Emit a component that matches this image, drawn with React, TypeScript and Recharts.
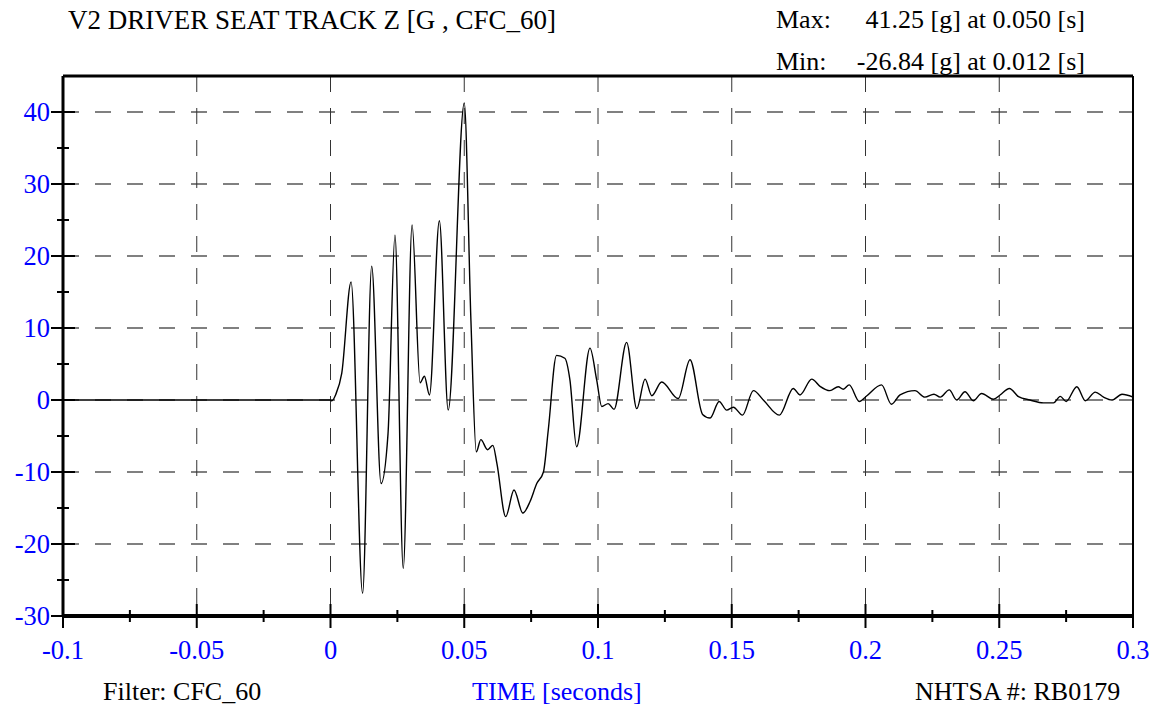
import React from "react";
import { LineChart, Line, XAxis, YAxis, CartesianGrid, ReferenceLine } from "recharts";

// time [s] and acceleration [g]
const TIME = [
  -0.1, -0.05, 0.0, 0.0005, 0.002, 0.0042, 0.0077, 0.012, 0.0154, 0.0189, 0.0215,
  0.0241, 0.0272, 0.0305, 0.0335, 0.0351, 0.037, 0.0407, 0.044, 0.05, 0.0525,
  0.0545, 0.0562, 0.0587, 0.0607, 0.0622, 0.0655, 0.0686, 0.0719, 0.0746, 0.0771,
  0.0796, 0.0814, 0.0845, 0.0876, 0.0895, 0.092, 0.097, 0.0995, 0.1014, 0.1038,
  0.106, 0.1107, 0.1145, 0.1176, 0.1201, 0.1238, 0.13, 0.1344, 0.1391, 0.1419,
  0.1453, 0.1481, 0.1506, 0.154, 0.1581, 0.1618, 0.1678, 0.173, 0.1755, 0.1799,
  0.183, 0.1867, 0.1898, 0.1917, 0.1939, 0.1977, 0.2004, 0.206, 0.2097, 0.2129,
  0.2185, 0.2222, 0.2256, 0.2279, 0.2313, 0.2341, 0.2372, 0.2403, 0.2434, 0.2478,
  0.2503, 0.2538, 0.2572, 0.2615, 0.2665, 0.2703, 0.2728, 0.275, 0.279, 0.2822,
  0.2859, 0.289, 0.2922, 0.2959, 0.3,
];

const ACCEL = [
  0, 0, 0, -0.1, 0.8, 3.7, 16.4, -26.84, 18.6, -11.6, -4.7,
  22.9, -23.4, 24.3, 2.4, 3.3, 0.7, 24.9, -1.4, 41.25, 11,
  -7.2, -5.5, -6.9, -6.3, -8.8, -16.2, -12.5, -15.7, -14.1, -11.6,
  -10, -4.2, 6.2, 5.8, 2.8, -6.5, 7.2, 2.8, -0.9, -0.5,
  -1.3, 8.0, -1.2, 2.9, 0.6, 2.5, 0.2, 5.6, -2.0, -2.5,
  -0.2, -1.4, -1.0, -2.1, 1.3, 0, -2.1, 1.6, 0.7, 2.9,
  1.9, 1.3, 1.85, 1.5, 2.1, -0.2, 0.55, 2.1, -0.6, 0.7,
  1.3, 0.4, 0.8, 0.4, 1.4, 0, 1.15, -0.1, 0.9, 0.1,
  0.7, 1.6, 0.46, 0, -0.4, -0.4, 0.5, -0.2, 1.85, -0.1,
  1.1, 0.4, 0, 0.8, 0.4,
];

const X_TICKS = [
  -0.1, -0.075, -0.05, -0.025, 0, 0.025, 0.05, 0.075, 0.1, 0.125, 0.15, 0.175,
  0.2, 0.225, 0.25, 0.275, 0.3,
];
const X_LABELS = ["-0.1", "-0.05", "0", "0.05", "0.1", "0.15", "0.2", "0.25", "0.3"];
const X_GRID = [-0.05, 0, 0.05, 0.1, 0.15, 0.2, 0.25];

const Y_TICKS = [-30, -25, -20, -15, -10, -5, 0, 5, 10, 15, 20, 25, 30, 35, 40];
const Y_GRID = [-30, -20, -10, 0, 10, 20, 30, 40];

const rows = TIME.map((t, i) => ({ t, g: ACCEL[i] }));

const BLUE = "#0000ff";
const FONT = '"Liberation Serif", "Times New Roman", serif';

function XTick(props: any) {
  const { x, y, index } = props;
  const major = index % 2 === 0;
  const len = major ? 12 : 6;
  return (
    <g>
      <line x1={x} x2={x} y1={y - len} y2={y + len} stroke="#000" strokeWidth={2} />
      {major && (
        <text x={x} y={y + 43} textAnchor="middle" fill={BLUE} fontSize={26.5} fontFamily={FONT}>
          {X_LABELS[index / 2]}
        </text>
      )}
    </g>
  );
}

function YTick(props: any) {
  const { x, y, payload } = props;
  const major = payload.value % 10 === 0;
  const len = major ? 12 : 6;
  return (
    <g>
      <line x1={x - len} x2={x + len} y1={y} y2={y} stroke="#000" strokeWidth={2} />
      {major && (
        <text x={x - 13} y={y + 9} textAnchor="end" fill={BLUE} fontSize={26.5} fontFamily={FONT}>
          {payload.value}
        </text>
      )}
    </g>
  );
}

const txt = (extra: React.CSSProperties): React.CSSProperties => ({
  position: "absolute",
  fontFamily: FONT,
  fontSize: 26,
  lineHeight: "26px",
  whiteSpace: "nowrap",
  color: "#000",
  ...extra,
});

export default function App() {
  return (
    <div style={{ position: "absolute", left: 0, top: 0, width: 1157, height: 711, background: "#fff" }}>
      <LineChart width={1157} height={711} data={rows} margin={{ top: 76, right: 24, bottom: 0, left: 0 }}>
        <CartesianGrid
          vertical={false}
          horizontalValues={Y_GRID}
          stroke="#808080"
          strokeWidth={2}
          strokeDasharray="16 16"
        />
        <CartesianGrid
          horizontal={false}
          verticalValues={X_GRID}
          stroke="#333"
          strokeWidth={1}
          strokeDasharray="16 16"
        />
        <XAxis
          dataKey="t"
          type="number"
          domain={[-0.1, 0.3]}
          ticks={X_TICKS}
          interval={0}
          height={95}
          tickSize={0}
          tickMargin={0}
          axisLine={{ stroke: "#000", strokeWidth: 4 }}
          tickLine={false}
          tick={<XTick />}
          allowDataOverflow
        />
        <YAxis
          type="number"
          domain={[-30, 45]}
          ticks={Y_TICKS}
          interval={0}
          width={63}
          tickSize={0}
          tickMargin={0}
          axisLine={{ stroke: "#000", strokeWidth: 3 }}
          tickLine={false}
          tick={<YTick />}
          allowDataOverflow
        />
        <ReferenceLine y={45} stroke="#000" strokeWidth={3} />
        <ReferenceLine x={0.3} stroke="#000" strokeWidth={2} />
        <Line
          dataKey="g"
          type="monotone"
          stroke="#000"
          strokeWidth={1.4}
          dot={false}
          isAnimationActive={false}
        />
      </LineChart>
      <div style={txt({ left: 68, top: 7, fontSize: 27 })}>V2 DRIVER SEAT TRACK Z [G , CFC_60]</div>
      <div style={txt({ left: 776, top: 7 })}>Max:</div>
      <div style={txt({ left: 776, top: 7, width: 309, textAlign: "right" })}>41.25 [g] at 0.050 [s]</div>
      <div style={txt({ left: 776, top: 49 })}>Min:</div>
      <div style={txt({ left: 776, top: 49, width: 309, textAlign: "right" })}>-26.84 [g] at 0.012 [s]</div>
      <div style={txt({ left: 103, top: 679 })}>Filter: CFC_60</div>
      <div style={txt({ left: 472, top: 679, color: BLUE })}>TIME [seconds]</div>
      <div style={txt({ left: 915, top: 679 })}>NHTSA #: RB0179</div>
    </div>
  );
}
